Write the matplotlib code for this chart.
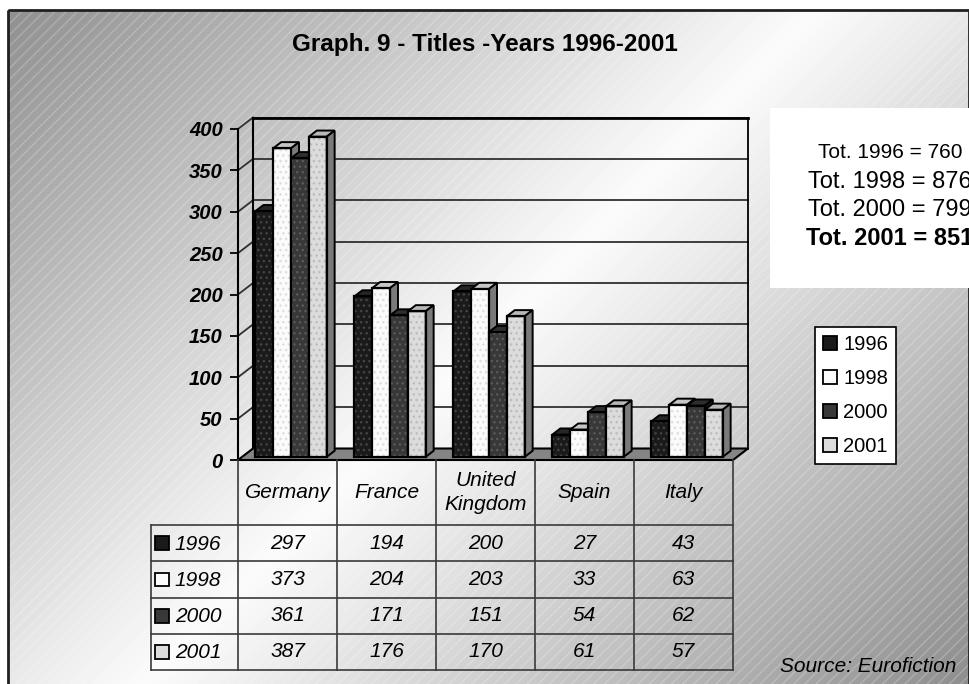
import numpy as np
import matplotlib
matplotlib.use('Agg')
import matplotlib.pyplot as plt
from matplotlib.patches import Polygon, Rectangle, Patch

plt.rcParams['font.family'] = ['Liberation Sans', 'DejaVu Sans']
plt.rcParams['hatch.linewidth'] = 1.0

# titles per country and year
countries = ['Germany', 'France', 'United\nKingdom', 'Spain', 'Italy']
years = ['1996', '1998', '2000', '2001']
v1996 = [297, 194, 200, 27, 43]
v1998 = [373, 204, 203, 33, 63]
v2000 = [361, 171, 151, 54, 62]
v2001 = [387, 176, 170, 61, 57]
totals = [760, 876, 799, 851]
series = [v1996, v1998, v2000, v2001]

face = ['#1a1a1a', '#fbfbfb', '#383838', '#dcdcdc']
dots = ['#454545', '#dedede', '#5a5a5a', '#bdbdbd']
topc = ['#262626', '#c6c6c6', '#2e2e2e', '#b8b8b8']
sidec = ['#111111', '#7a7a7a', '#1c1c1c', '#7a7a7a']

W, H = 970, 684
fig = plt.figure(figsize=(W / 100, H / 100), dpi=100)


def box(l, t, r, b):
    return [l / W, 1 - b / H, (r - l) / W, (b - t) / H]


# ---- background: diagonal grey-white-grey gradient with fine stripes
bg = fig.add_axes([0, 0, 1, 1])
bg.set_xlim(0, W)
bg.set_ylim(H, 0)
bg.axis('off')
yy, xx = np.mgrid[0:H, 0:W]
d = np.abs(xx + yy - (W + H) / 2) / ((W + H) / 2)
shade = 0.985 - 0.43 * d
shade[(yy < 10) | (xx < 8)] = 1.0
bg.imshow(shade, cmap='gray', vmin=0, vmax=1, extent=(0, W, H, 0),
          aspect='auto', zorder=0, interpolation='bilinear')
bg.add_patch(Rectangle((8, 10), W - 8, H - 10, facecolor='none',
                       edgecolor=(1, 1, 1, 0.22), hatch='///', lw=0, zorder=1))
bg.add_patch(Rectangle((8, 10), 961, 700, fill=False, edgecolor='#202020',
                       lw=2, zorder=2))
bg.add_patch(Rectangle((770, 108), 210, 180, facecolor='white',
                       edgecolor='none', zorder=3))

fig.text(485 / W, 1 - 44 / H, 'Graph. 9 - Titles -Years 1996-2001',
         ha='center', va='center', fontsize=17.5, fontweight='bold')

# totals box
tot_y = [152, 182, 210, 239]
for k, (yr, t) in enumerate(zip(years, totals)):
    fig.text(890 / W, 1 - tot_y[k] / H, f'Tot. {yr} = {t}', ha='center',
             va='center', fontsize=15 if k == 0 else 17,
             fontweight='bold' if k == 3 else 'normal')

# ---- main 3D-style bar area
ax = fig.add_axes(box(238, 129, 733, 460))
ax.set_xlim(0, 5)
ax.set_ylim(0, 400)
ax.patch.set_visible(False)
for sp in ['top', 'right', 'bottom']:
    ax.spines[sp].set_visible(False)
ax.spines['left'].set_linewidth(1.5)
ax.set_xticks([])
ticks = np.arange(0, 401, 50)
ax.set_yticks(ticks)
ax.set_yticklabels([str(t) for t in ticks], fontsize=14.5,
                   fontweight='bold', style='italic')
ax.tick_params(axis='y', length=6, width=1.3, pad=5)

DX = 15 / 99
DY = 11.5 * 400 / 331
gc = '#303030'
for t in ticks[1:]:
    ax.plot([0, DX], [t, t + DY], color=gc, lw=1.3, clip_on=False, zorder=1)
    ax.plot([DX, 5 + DX], [t + DY, t + DY], color=gc, lw=1.3, clip_on=False,
            zorder=1)
ax.plot([DX, DX], [DY, 400 + DY], color='black', lw=1.5, clip_on=False, zorder=1)
ax.plot([5 + DX, 5 + DX], [DY, 400 + DY], color='black', lw=1.3,
        clip_on=False, zorder=1)
ax.plot([DX, 5 + DX], [400 + DY, 400 + DY], color='black', lw=2,
        clip_on=False, zorder=1)
ax.add_patch(Polygon([(0, 0), (5, 0), (5 + DX, DY), (DX, DY)], closed=True,
                     fc='#858585', ec='black', lw=1.5, clip_on=False, zorder=2))

f0, f1 = 0.27, 0.80
bw = 0.18
offs = np.array([-1.5, -0.5, 0.5, 1.5]) * bw
xc = np.arange(len(countries)) + 0.495
ddx, ddy = (f1 - f0) * DX, (f1 - f0) * DY
for s, vals in enumerate(series):
    z = 3 + s * 0.1
    xl = xc + offs[s] - bw / 2 + f0 * DX
    ax.bar(xl, vals, bw, bottom=f0 * DY, align='edge', color=face[s],
           edgecolor=dots[s], hatch='...', linewidth=0, zorder=z, clip_on=False)
    for x0, v in zip(xl, vals):
        yb, yt = f0 * DY, v + f0 * DY
        ax.add_patch(Polygon([(x0, yt), (x0 + bw, yt), (x0 + bw + ddx, yt + ddy),
                              (x0 + ddx, yt + ddy)], closed=True, fc=topc[s],
                             ec='black', lw=1.4, zorder=z + 0.01, clip_on=False))
        ax.add_patch(Polygon([(x0 + bw, yb), (x0 + bw, yt),
                              (x0 + bw + ddx, yt + ddy), (x0 + bw + ddx, yb + ddy)],
                             closed=True, fc=sidec[s], ec='black', lw=1.4,
                             zorder=z + 0.01, clip_on=False))
    ax.bar(xl, vals, bw, bottom=f0 * DY, align='edge', fill=False,
           edgecolor='black', linewidth=1.6, zorder=z + 0.02, clip_on=False)

# ---- data table under the chart
lab_l = (151 - 238) / 99
hdr = 1.8
axt = fig.add_axes(box(151, 460, 733, 670))
axt.set_xlim(lab_l, 5)
axt.set_ylim(hdr + 4, 0)
axt.axis('off')
lc = '#3a3a3a'
for x in range(6):
    axt.plot([x, x], [0, hdr + 4], color=lc, lw=1.2, clip_on=False)
axt.plot([lab_l, lab_l], [hdr, hdr + 4], color=lc, lw=1.2, clip_on=False)
for y in hdr + np.arange(5):
    axt.plot([lab_l, 5], [y, y], color=lc, lw=1.2, clip_on=False)
for i, c in enumerate(countries):
    axt.text(i + 0.5, hdr / 2, c, ha='center', va='center', style='italic',
             fontsize=15, linespacing=1.35)
for s, vals in enumerate(series):
    yc = hdr + s + 0.5
    for i, v in enumerate(vals):
        axt.text(i + 0.5, yc, str(v), ha='center', va='center',
                 style='italic', fontsize=15)
    axt.add_patch(Rectangle((-0.838, yc - 0.19), 0.14, 0.38, fc=face[s],
                            ec='black', lw=1.3, clip_on=False))
    axt.text(-0.64, yc + 0.03, years[s], ha='left', va='center',
             style='italic', fontsize=15)

# ---- legend
handles = [Patch(fc=face[s], ec='black', lw=1.3) for s in range(4)]
fig.legend(handles=handles, labels=years, loc='upper left',
           bbox_to_anchor=(815 / W, 1 - 327 / H), fontsize=14.5, frameon=True,
           fancybox=False, edgecolor='black', framealpha=1, handlelength=0.7,
           handleheight=0.7, handletextpad=0.3, labelspacing=0.75,
           borderpad=0.4, borderaxespad=0).get_frame().set_linewidth(1.2)

fig.text(780 / W, 1 - 667 / H, 'Source: Eurofiction', ha='left', va='center',
         style='italic', fontsize=15)

fig.savefig('out.png', dpi=100)
